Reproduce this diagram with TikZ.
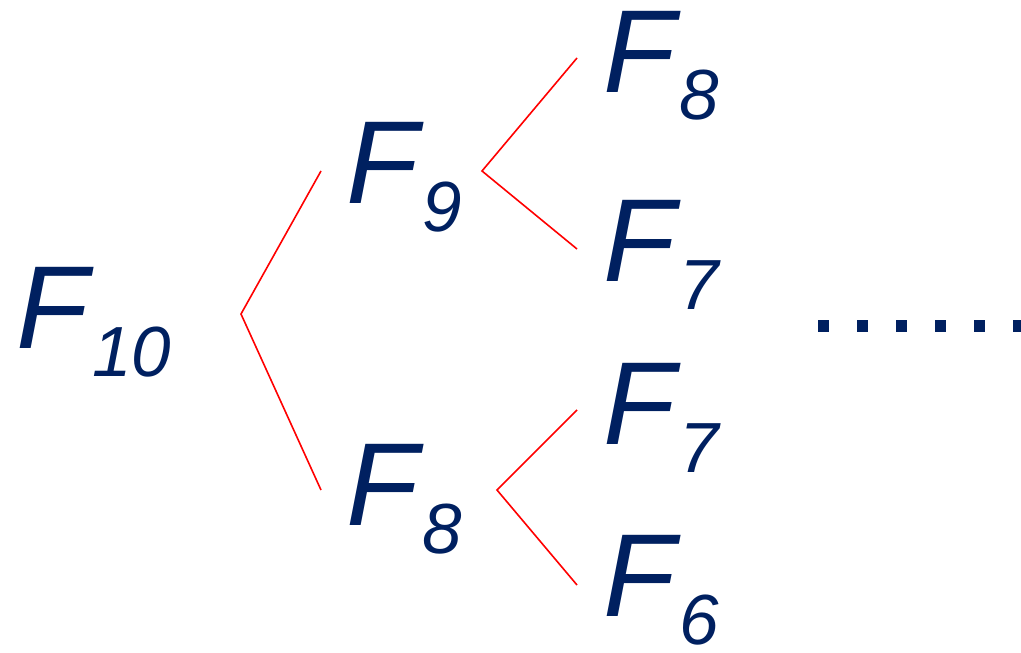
\documentclass[tikz,border=0pt]{standalone}
\usepackage{fontspec}
\setmainfont{Liberation Sans}
\usepackage{xcolor}
\definecolor{navy}{RGB}{0,32,96}
\newcommand{\fibsub}[1]{\kern4pt\raisebox{-28pt}{\fontsize{71}{71}\selectfont\itshape #1}}
\newcommand{\fib}[1]{{\fontsize{118}{118}\selectfont\itshape F\fibsub{#1}}}

\begin{document}
\begin{tikzpicture}[x=1pt,y=-1pt,
  fibnode/.style={inner sep=0pt,anchor=base west,text=navy},
  branch/.style={red,line width=1.6pt,line join=miter}]
\useasboundingbox (0,0) rectangle (1021,653);
\node[fibnode] (f10) at (16,348) {\fib{10}};
\node[fibnode] (f9) at (346,203) {\fib{9}};
\node[fibnode] (f8a) at (346,525) {\fib{8}};
\node[fibnode] (f8b) at (603,92) {\fib{8}};
\node[fibnode] (f7a) at (603,281) {\fib{7}};
\node[fibnode] (f7b) at (603,444) {\fib{7}};
\node[fibnode] (f6) at (603,616) {\fib{6}};
\coordinate (j10) at (241,314);
\coordinate (e9) at (321,171);
\coordinate (e8a) at (321,490);
\draw[branch] (e9) -- (j10) -- (e8a);
\coordinate (j9) at (482,171);
\coordinate (e8b) at (577,58);
\coordinate (e7a) at (577,249);
\draw[branch] (e8b) -- (j9) -- (e7a);
\coordinate (j8) at (497,490);
\coordinate (e7b) at (577,410);
\coordinate (e6) at (577,585);
\draw[branch] (e7b) -- (j8) -- (e6);
\foreach \i in {0,...,5}
  \fill[navy] (818+39*\i,320) rectangle ++(11,12);
\end{tikzpicture}
\end{document}
